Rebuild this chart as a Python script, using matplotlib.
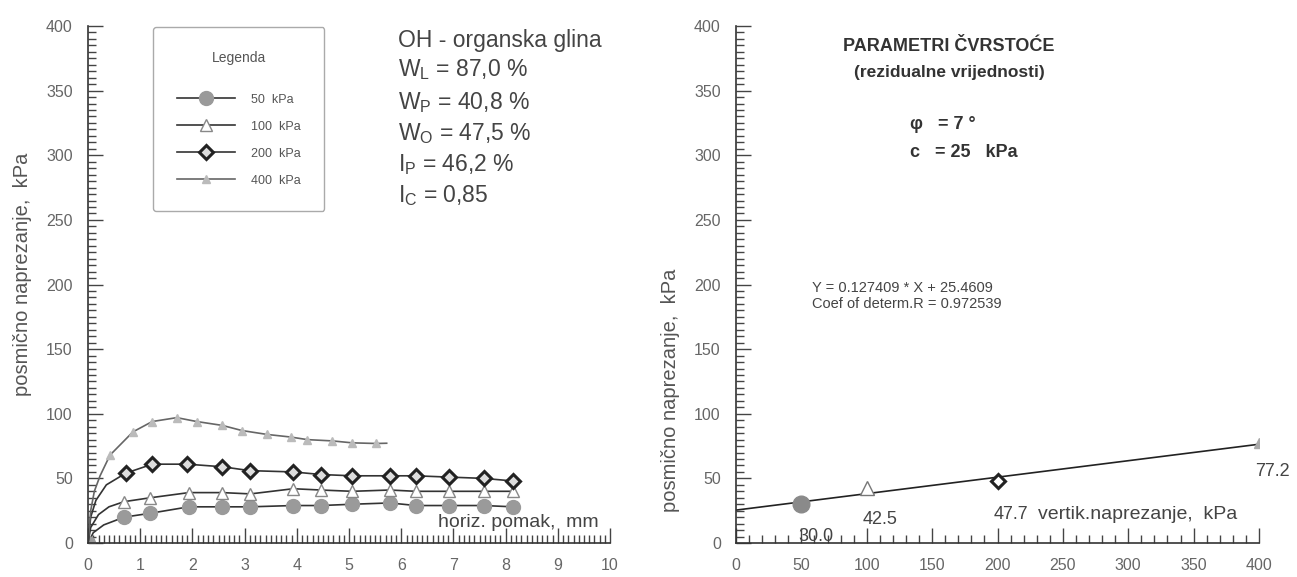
import matplotlib.pyplot as plt
from matplotlib.ticker import MultipleLocator

plt.rcParams['font.family'] = ['Liberation Sans', 'DejaVu Sans']
plt.rcParams['mathtext.default'] = 'regular'

# shear stress vs horizontal displacement
x_50 = [0, 0.1, 0.3, 0.69, 1.19, 1.93, 2.57, 3.11, 3.93, 4.46, 5.06, 5.78, 6.28, 6.91, 7.58, 8.14]
y_50 = [0, 8, 14, 20, 23, 28, 28, 28, 29, 29, 30, 31, 29, 29, 29, 28]
x_100 = [0, 0.05, 0.2, 0.4, 0.69, 1.19, 1.93, 2.57, 3.11, 3.93, 4.46, 5.06, 5.78, 6.28, 6.91, 7.58, 8.14]
y_100 = [0, 12, 22, 28, 32, 35, 39, 39, 38, 42, 41, 40, 41, 40, 40, 40, 40]
x_200 = [0, 0.05, 0.15, 0.35, 0.72, 1.23, 1.9, 2.57, 3.1, 3.93, 4.46, 5.06, 5.78, 6.28, 6.91, 7.58, 8.14]
y_200 = [0, 20, 33, 45, 54, 61, 61, 59, 56, 55, 53, 52, 52, 52, 51, 50, 48]
x_400 = [0, 0.05, 0.12, 0.23, 0.42, 0.86, 1.23, 1.7, 2.08, 2.57, 2.95, 3.43, 3.88, 4.2, 4.68, 5.06, 5.52, 5.72]
y_400 = [0, 25, 40, 52, 68, 86, 94, 97, 94, 91, 87, 84, 82, 80, 79, 77.5, 77, 77.2]

# residual strength
sigma_v = [50, 100, 200, 400]
tau_res = [30.0, 42.5, 47.7, 77.2]
slope = 0.127409
intercept = 25.4609

fig = plt.figure(figsize=(12.97, 5.77), dpi=100)
ax1 = fig.add_axes([0.0679, 0.0589, 0.4025, 0.896])
ax2 = fig.add_axes([0.5675, 0.0589, 0.4032, 0.896])

txt_c = '#444444'
line_c = '#333333'
ax1.plot(x_50, y_50, '-', color=line_c, lw=1.2, marker='o', ms=10,
         mfc='#9a9a9a', mec='#9a9a9a', markevery=[0] + list(range(3, len(x_50))), label='50  kPa')
ax1.plot(x_100, y_100, '-', color=line_c, lw=1.2, marker='^', ms=9,
         mfc='white', mec='#888888', markevery=list(range(4, len(x_100))), label='100  kPa')
ax1.plot(x_200, y_200, '-', color=line_c, lw=1.2, marker='D', ms=7, mew=2.2,
         mfc='#dddddd', mec='#222222', markevery=list(range(4, len(x_200))), label='200  kPa')
ax1.plot(x_400, y_400, '-', color='#666666', lw=1.2, marker='^', ms=6,
         mfc='#bbbbbb', mec='#bbbbbb', markevery=list(range(4, len(x_400) - 1)), label='400  kPa')

ax2.plot([0, 400], [intercept, slope * 400 + intercept], '-', color='#222222', lw=1.2)
ax2.plot(sigma_v[0], tau_res[0], 'o', ms=12, mfc='#8a8a8a', mec='#8a8a8a')
ax2.plot(sigma_v[1], tau_res[1], '^', ms=10, mfc='white', mec='#777777')
ax2.plot(sigma_v[2], tau_res[2], 'D', ms=7, mew=2.2, mfc='white', mec='#222222')
ax2.plot(sigma_v[3], tau_res[3], '^', ms=7, mfc='#aaaaaa', mec='#aaaaaa')

for ax in (ax1, ax2):
    ax.set_ylim(0, 400)
    ax.spines['top'].set_visible(False)
    ax.spines['right'].set_visible(False)
    for s in ('left', 'bottom'):
        ax.spines[s].set_color('#333333')
        ax.spines[s].set_linewidth(1.2)
    ax.yaxis.set_major_locator(MultipleLocator(50))
    ax.yaxis.set_minor_locator(MultipleLocator(5))
    ax.tick_params(which='both', direction='in', colors='#444444', labelcolor='#666666',
                   labelsize=11.5)
    ax.tick_params(which='major', length=11, width=1, pad=11)
    ax.tick_params(which='minor', length=6, width=1)
    ax.set_ylabel('posmično naprezanje,  kPa', fontsize=14.5, color='#555555')

ax1.set_xlim(0, 10)
ax1.xaxis.set_major_locator(MultipleLocator(1))
ax1.xaxis.set_minor_locator(MultipleLocator(0.1))
ax1.yaxis.set_label_coords(-0.108, 0.52)

ax2.set_xlim(0, 400)
ax2.xaxis.set_major_locator(MultipleLocator(50))
ax2.xaxis.set_minor_locator(MultipleLocator(10))
ax2.yaxis.set_label_coords(-0.108, 0.296)

leg = ax1.legend(loc='upper left', bbox_to_anchor=(0.125, 0.998), title='Legenda\n', fontsize=9,
                 title_fontsize=10, handlelength=4.6, labelspacing=1.2, borderpad=1.9,
                 handletextpad=1.3, fancybox=True, framealpha=1, borderaxespad=0)
leg.get_frame().set_edgecolor('#aaaaaa')
leg.get_title().set_color('#555555')
leg.get_title().set_linespacing(1.0)
for t in leg.get_texts():
    t.set_color('#555555')

ax1.text(0.594, 389, 'OH - organska glina', fontsize=16.5, color=txt_c,
         transform=ax1.get_yaxis_transform(), va='center')
props = ['W$_L$ = 87,0 %', 'W$_P$ = 40,8 %', 'W$_O$ = 47,5 %', 'I$_P$ = 46,2 %', 'I$_C$ = 0,85']
props_y = [366, 341, 317, 293, 269]
for s, yy in zip(props, props_y):
    ax1.text(0.594, yy, s, fontsize=16.5, color=txt_c,
             transform=ax1.get_yaxis_transform(), va='center')
ax1.text(6.7, 16, 'horiz. pomak,  mm', fontsize=14, color=txt_c, va='center')

ax2.text(163, 384, 'PARAMETRI ČVRSTOĆE', fontsize=13, fontweight='bold', color='#333333',
         ha='center', va='center')
ax2.text(163, 364, '(rezidualne vrijednosti)', fontsize=12.5, fontweight='bold', color='#333333',
         ha='center', va='center')
ax2.text(133, 324, 'φ   = 7 °', fontsize=13, fontweight='bold', color='#333333', va='center')
ax2.text(133, 302, 'c   = 25   kPa', fontsize=13, fontweight='bold', color='#333333', va='center')
ax2.text(58, 197, 'Y = %g * X + %g' % (slope, intercept), fontsize=10.5, color=txt_c, va='center')
ax2.text(58, 185, 'Coef of determ.R = 0.972539', fontsize=10.5, color=txt_c, va='center')

# value labels next to the points
label_pos = [(48, 5), (97, 18), (197, 22), (397, 55)]
for v, (lx, ly) in zip(tau_res, label_pos):
    ax2.text(lx, ly, '%.1f' % v, fontsize=13, color=txt_c, va='center', clip_on=False)
ax2.text(231, 22, 'vertik.naprezanje,  kPa', fontsize=14, color=txt_c, va='center')

fig.savefig('out.png', dpi=100)
